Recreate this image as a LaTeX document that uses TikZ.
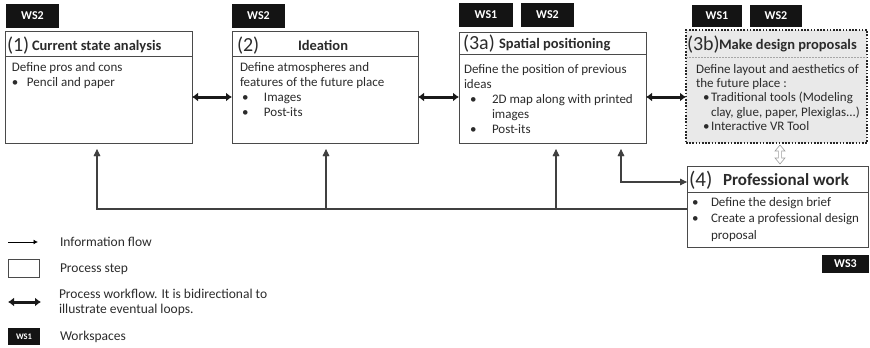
\documentclass[tikz,border=0pt]{standalone}
\usepackage{fontspec}
\setmainfont{Carlito}
\usetikzlibrary{arrows.meta}
\definecolor{txt}{HTML}{2B2B2B}
\definecolor{edge}{HTML}{4A4A4A}
\definecolor{fillb}{HTML}{E9E9E9}
% bullet item: bullet at offset #1, text at offset #2
\newcommand{\itm}[3]{\hbox to #2{\kern#1\textbullet\hfil}#3}
\newcommand{\ind}[1]{\hbox to #1{}}
\newcommand{\bodyfont}{\fontsize{13}{15}\selectfont}
\newcommand{\numfont}{\fontsize{20}{20}\selectfont}
\newcommand{\ttlfont}{\bfseries\fontsize{14.5}{15}\selectfont}
\begin{document}
\begin{tikzpicture}[x=1pt,y=-1pt,
  every node/.style={inner sep=0pt,outer sep=0pt,text=txt},
  stepbox/.style={draw=edge,line width=0.9pt,rectangle,anchor=north west},
  badge/.style={fill=black!92,text=white,font=\bfseries\fontsize{12}{12}\selectfont,
    minimum width=53pt,minimum height=24pt,anchor=north west},
  body/.style={anchor=north west,align=left,font=\bodyfont},
  ttl/.style={anchor=base west},
  workflow/.style={draw=black!90,line width=3pt,{Latex[length=6pt,width=9pt]}-{Latex[length=6pt,width=9pt]}},
  infoflow/.style={draw=black!75,line width=1.1pt,>={Latex[length=7pt,width=6.5pt]}},
  headup/.style={fill=black!75,shift={#1}},
  headright/.style={fill=black!75,shift={#1}},
  seprule/.style={draw=edge,line width=0.9pt}]
\useasboundingbox (0,0) rectangle (870,348);

% process steps
\node[stepbox,minimum width=187pt,minimum height=112pt] (b1) at (5,31) {};
\node[stepbox,minimum width=186pt,minimum height=112pt] (b2) at (232,31) {};
\node[stepbox,minimum width=187pt,minimum height=111pt] (b3a) at (459,32) {};
\node[stepbox,draw=black!85,fill=fillb,line width=1.6pt,dash pattern=on 1.6pt off 1.6pt,
  minimum width=181pt,minimum height=113pt] (b3b) at (686,30) {};
\node[stepbox,minimum width=181pt,minimum height=81pt] (b4) at (687,166) {};

% title separators
\draw[seprule] ([yshift=-25pt]b1.north west) -- ([yshift=-25pt]b1.north east);
\draw[seprule] ([yshift=-25pt]b2.north west) -- ([yshift=-25pt]b2.north east);
\draw[seprule] ([yshift=-22pt]b3a.north west) -- ([yshift=-22pt]b3a.north east);
\draw[draw=gray!70,line width=0.8pt,dash pattern=on 1.5pt off 1.5pt]
  ([yshift=-27pt]b3b.north west) -- ([yshift=-27pt]b3b.north east);
\draw[seprule] ([yshift=-26pt]b4.north west) -- ([yshift=-26pt]b4.north east);

% workspace badges
\node[badge] (w1) at (6,4) {WS2};
\node[badge] (w2) at (232,3.5) {WS2};
\node[badge,minimum width=54pt] (w3a1) at (459,3) {WS1};
\node[badge] (w3a2) at (521,3) {WS2};
\node[badge,minimum width=50pt,minimum height=22pt] (w3b1) at (692,5) {WS1};
\node[badge,minimum width=52pt,minimum height=22pt] (w3b2) at (750,5) {WS2};
\node[badge,minimum width=47pt,minimum height=18pt] (w4) at (822,255) {WS3};

% titles
\node[ttl] (t1n) at (7,51) {\numfont(1)};
\node[ttl] (t1) at (32,50) {\ttlfont Current state analysis};
\node[ttl] (t2n) at (237,51) {\numfont(2)};
\node[ttl] (t2) at (298,50) {\ttlfont Ideation};
\node[ttl] (t3an) at (463,49) {\numfont(3a)};
\node[ttl] (t3a) at (499,48) {\ttlfont Spatial positioning};
\node[ttl] (t3bn) at (687,50) {\numfont(3b)};
\node[ttl] (t3b) at (719,49) {\ttlfont Make design proposals};
\node[ttl] (t4n) at (689,186) {\fontsize{21}{21}\selectfont(4)};
\node[ttl] (t4) at (723,185) {\bfseries\fontsize{17}{17}\selectfont Professional work};

% step contents
\node[body] (c1) at (12,62) {Define pros and cons\\\itm{0pt}{15pt}{Pencil and paper}};
\node[body] (c2) at (240,62) {Define atmospheres and\\features of the future place\\
  \itm{2pt}{24pt}{Images}\\\itm{2pt}{24pt}{Post-its}};
\node[body] (c3a) at (464,64) {Define the position of previous\\ideas\\
  \itm{6pt}{28pt}{2D map along with printed}\\\ind{28pt}images\\\itm{6pt}{28pt}{Post-its}};
\node[body,font=\fontsize{13}{14.4}\selectfont] (c3b) at (696,64)
  {Define layout and aesthetics of\\the future place :\\
  \itm{7pt}{15pt}{Traditional tools (Modeling}\\
  \ind{15pt}clay, glue, paper, Plexiglas...)\\
  \itm{7pt}{15pt}{Interactive VR Tool}};
\node[body,font=\fontsize{13}{16.5}\selectfont] (c4) at (692,197)
  {\itm{0pt}{19pt}{Define the design brief}\\\itm{0pt}{19pt}{Create a professional design}\\
  \ind{19pt}proposal};

% process workflow
\draw[workflow] ([yshift=-66pt]b1.north east) -- ([yshift=-66pt]b2.north west);
\draw[workflow] ([yshift=-66pt]b2.north east) -- ([yshift=-65pt]b3a.north west);
\draw[workflow] ([yshift=-65pt]b3a.north east) -- ([yshift=-67pt]b3b.north west);
% hollow two-way arrow between the design proposals and professional work
\coordinate (vr) at ([xshift=94pt]b3b.south west);
\draw[draw=gray!75,line width=0.6pt,fill=white,shift={(vr)},line join=miter]
  (0,2) -- (5,8) -- (1.6,8) -- (1.6,15) -- (5,15) -- (0,21) -- (-5,15) -- (-1.6,15)
  -- (-1.6,8) -- (-5,8) -- cycle;

% information flow
\coordinate (rail) at ([yshift=-43pt]b4.north west);
\coordinate (in1) at ([xshift=92pt,yshift=-6pt]b1.south west);
\coordinate (in2) at ([xshift=94pt,yshift=-6pt]b2.south west);
\coordinate (in3) at ([xshift=97pt,yshift=-6pt]b3a.south west);
\coordinate (in3b) at ([xshift=162pt,yshift=-6pt]b3a.south west);
\coordinate (in4) at ([yshift=-16pt]b4.north west);
\draw[infoflow,->] (rail) -| (in1);
\draw[infoflow,->] (in2 |- rail) -- (in2);
\draw[infoflow,->] (in3 |- rail) -- (in3);
\draw[infoflow,<->] (in3b) |- (in4);
% solid heads of the information arrows
\foreach \p in {in1,in2,in3,in3b}
  \fill[headup=(\p)] (0,0) -- (3.4,7) -- (-3.4,7) -- cycle;
\fill[headright=(in4)] (0,0) -- (-7,3.4) -- (-7,-3.4) -- cycle;

% legend
\coordinate (l1a) at (8,242);
\coordinate (l1b) at (38,242);
\draw[draw=black,line width=1pt,-{Latex[length=4.5pt,width=5pt]}] (l1a) -- (l1b);
\node[anchor=west,font=\fontsize{13.5}{13.5}\selectfont] (lt1) at (60,242) {Information flow};
\node[stepbox,minimum width=31pt,minimum height=18pt] (lbox) at (8,259) {};
\node[anchor=west,font=\fontsize{13.5}{13.5}\selectfont] (lt2) at (60,269) {Process step};
\coordinate (l3a) at (8,302);
\coordinate (l3b) at (41,302);
\draw[workflow] (l3a) -- (l3b);
\node[anchor=west,align=left,font=\fontsize{13.5}{15}\selectfont] (lt3) at (59,302)
  {Process workflow. It is bidirectional to\\illustrate eventual loops.};
\node[badge,minimum width=32pt,minimum height=17pt,font=\bfseries\fontsize{8.5}{9}\selectfont] (lw) at (8,328) {WS1};
\node[anchor=west,font=\fontsize{13.5}{13.5}\selectfont] (lt4) at (60,337) {Workspaces};
\end{tikzpicture}
\end{document}
